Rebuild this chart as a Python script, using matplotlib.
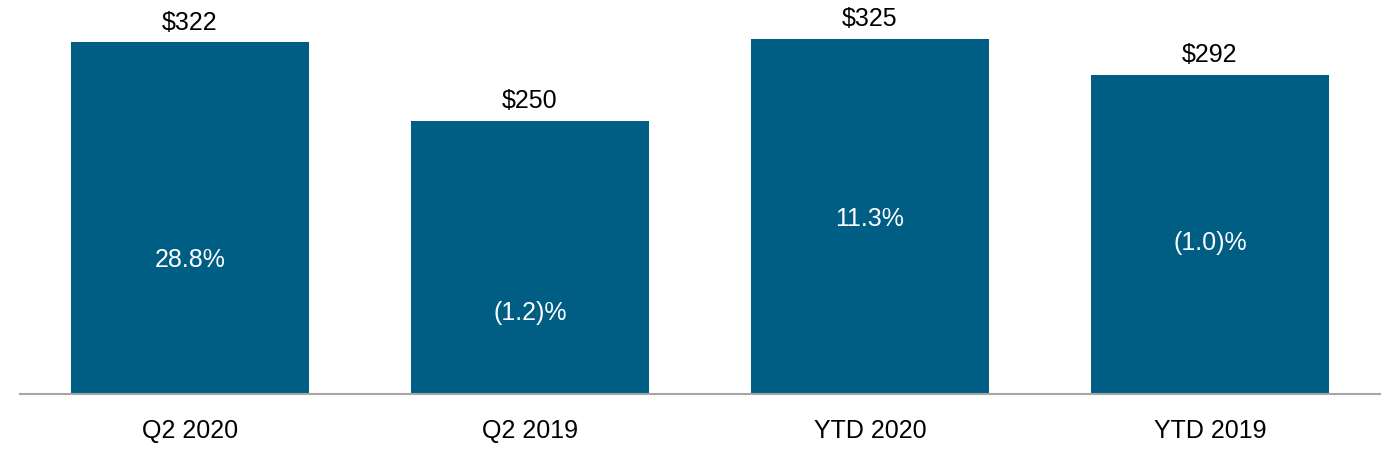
import matplotlib
matplotlib.use("Agg")
import matplotlib.pyplot as plt

categories = ["Q2 2020", "Q2 2019", "YTD 2020", "YTD 2019"]
values = [322, 250, 325, 292]
growth = ["28.8%", "(1.2)%", "11.3%", "(1.0)%"]

# inner label heights (data units), as placed in the original
growth_y = [123.5, 75, 161, 139]

BAR_COLOR = "#005E85"

plt.rcParams['font.family'] = ['Liberation Sans', 'DejaVu Sans']

fig = plt.figure(figsize=(14, 4.6), dpi=100)
ax = fig.add_axes([20 / 1400, 65 / 460, 1360 / 1400, 395 / 460])

x = range(len(categories))
bars = ax.bar(x, values, width=0.7, color=BAR_COLOR)

for rect, v in zip(bars, values):
    ax.annotate(f"${v}", (rect.get_x() + rect.get_width() / 2, v),
                xytext=(0, 6), textcoords="offset points",
                ha="center", va="bottom", fontsize=18, color="black")

for xi, label, gy in zip(x, growth, growth_y):
    ax.text(xi, gy, label, ha="center", va="center", fontsize=18, color="white")

ax.set_xlim(-0.5, 3.5)
ax.set_ylim(0, 361.3)
ax.set_xticks(list(x))
ax.set_xticklabels(categories, fontsize=18)
ax.tick_params(axis="x", length=0, pad=17)
ax.set_yticks([])

for side in ["left", "right", "top"]:
    ax.spines[side].set_visible(False)
ax.spines["bottom"].set_color("#A6A6A6")
ax.spines["bottom"].set_linewidth(1.5)

fig.savefig("out.png", dpi=100)
